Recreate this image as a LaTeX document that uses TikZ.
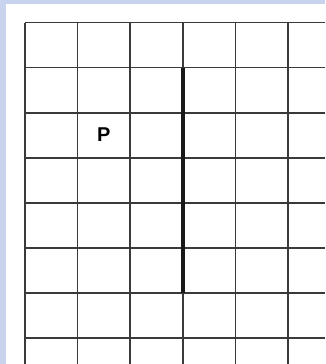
\documentclass[tikz,border=0pt]{standalone}
\usepackage{fontspec}
\setmainfont{Liberation Sans}
\definecolor{bgblue}{HTML}{C8D4EE}
\definecolor{gridgray}{HTML}{3A3A3A}
\begin{document}
\begin{tikzpicture}[x=1pt,y=-1pt,
  gridline/.style={draw=gridgray,line width=1.6pt},
  wall/.style={draw=black!90,line width=3.8pt},
  label/.style={font=\bfseries\fontsize{20}{20}\selectfont,text=black,inner sep=0pt}]
\useasboundingbox (0,0) rectangle (325,364);
\fill[bgblue] (0,0) rectangle (325,364);
\fill[white] (6,4) rectangle (325,364);
\foreach \x in {25,77.6,130.2,182.8,235.4,288} {
  \draw[gridline] (\x,22.5) -- (\x,364);
}
\foreach \y in {22.5,67.6,112.7,157.8,202.9,248,293.1,338.2} {
  \draw[gridline] (25,\y) -- (325,\y);
}
\coordinate (wtop) at (182.8,67.6);
\coordinate (wbot) at (182.8,293.1);
\draw[wall] (wtop) -- (wbot);
\node[label] (p) at (103.8,134.6) {P};
\end{tikzpicture}
\end{document}
